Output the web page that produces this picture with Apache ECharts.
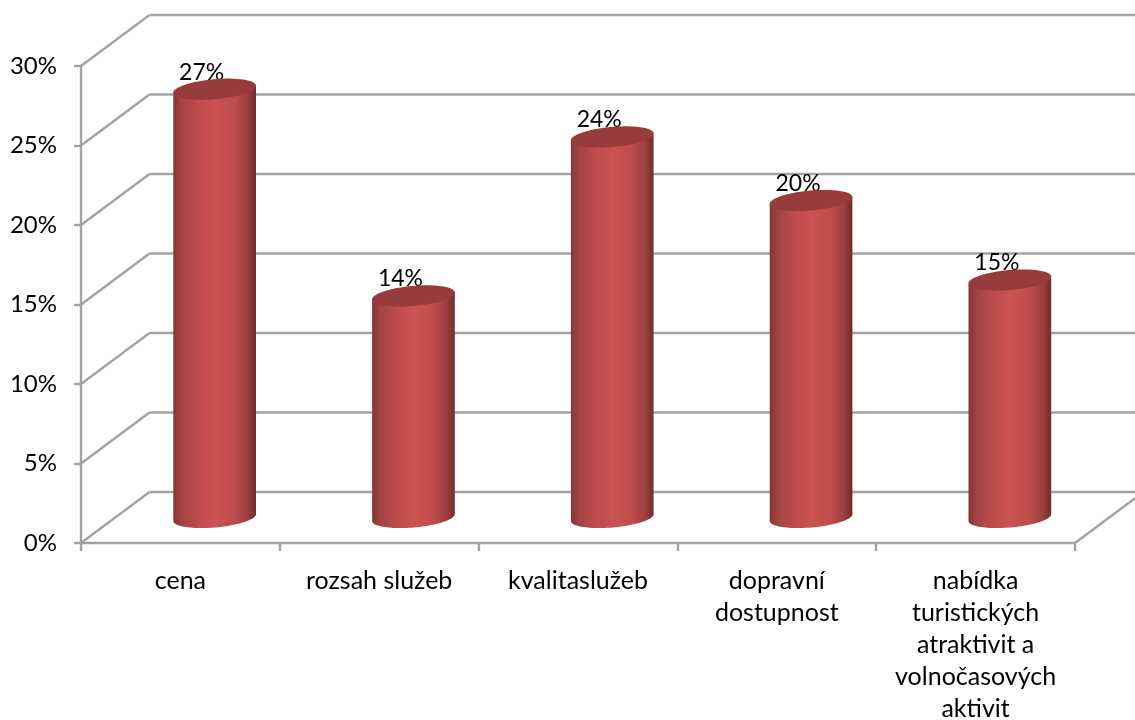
<!DOCTYPE html>
<html>
<head>
<meta charset="utf-8">
<style>html,body{margin:0;padding:0;background:#fff}#c{width:1135px;height:720px}</style>
<script src="https://cdn.jsdelivr.net/npm/echarts@6/dist/echarts.min.js"></script>
</head>
<body>
<div id="c"></div>
<script>
const categories = ['cena', 'rozsah služeb', 'kvalitaslužeb', 'dopravní\ndostupnost', 'nabídka\nturistických\natraktivit a\nvolnočasových\naktivit'];
const values = [27, 14, 24, 20, 15];
const yTicks = [0, 5, 10, 15, 20, 25, 30];

const depthX = 68.5, depthY = -51;
const rx = 41.5, ry = 10, tilt = 5 * Math.PI / 180;
const lineColor = '#a3a3a3';
const font = 'Lato, Carlito, sans-serif';

function ellipsePoint(cx, cy, t) {
  const a = rx * Math.cos(t), b = ry * Math.sin(t);
  return [cx + a * Math.cos(tilt) + b * Math.sin(tilt), cy - a * Math.sin(tilt) + b * Math.cos(tilt)];
}
function ellipsePts(cx, cy, from, to, n) {
  const pts = [];
  for (let i = 0; i <= n; i++) pts.push(ellipsePoint(cx, cy, from + (to - from) * i / n));
  return pts;
}

function renderWalls(params, api) {
  const cs = params.coordSys;
  const children = [];
  const line = (x1, y1, x2, y2) => children.push({
    type: 'line', shape: { x1, y1, x2, y2 },
    style: { stroke: lineColor, lineWidth: 2.4, fill: null }
  });
  yTicks.forEach(v => {
    const y = api.coord([0, v])[1];
    line(cs.x, y, cs.x + depthX, y + depthY);
    line(cs.x + depthX, y + depthY, 1135, y + depthY);
  });
  const y0 = api.coord([0, 0])[1];
  line(cs.x + cs.width, y0, cs.x + cs.width + depthX, y0 + depthY);
  return { type: 'group', children };
}

function renderCyl(params, api) {
  const p = api.coord([api.value(0), api.value(1)]);
  const b = api.coord([api.value(0), 0]);
  const cx = p[0] + depthX / 2, top = p[1] + depthY / 2 + 1, bot = b[1] + depthY / 2;
  const grad = {
    type: 'linear', x: 0, y: 0, x2: 1, y2: 0,
    colorStops: [
      { offset: 0, color: '#863535' }, { offset: 0.1, color: '#a34343' },
      { offset: 0.28, color: '#bb4b4a' }, { offset: 0.5, color: '#cb5351' },
      { offset: 0.75, color: '#bd4c4a' }, { offset: 0.9, color: '#9a3f3e' },
      { offset: 1, color: '#6f2c2c' }
    ]
  };
  const body = [ellipsePoint(cx, top, Math.PI)].concat(ellipsePts(cx, bot, Math.PI, 0, 48)).concat([ellipsePoint(cx, top, 0)]);
  return {
    type: 'group',
    children: [
      { type: 'text', style: { text: api.value(1) + '%', x: cx - 13, y: top - 17, align: 'center', verticalAlign: 'middle', font: '23px ' + font, fill: '#000' } },
      { type: 'polygon', shape: { points: body }, style: { fill: grad } },
      { type: 'polygon', shape: { points: ellipsePts(cx, top, 0, 2 * Math.PI, 64) }, style: { fill: '#973b3b' } }
    ]
  };
}

const chart = echarts.init(document.getElementById('c'), null, { renderer: 'canvas' });
chart.setOption({
  animation: false,
  backgroundColor: '#fff',
  grid: { left: 81, right: 60, top: 66, bottom: 177, outerBoundsMode: 'none' },
  xAxis: {
    type: 'category', data: categories,
    axisLine: { lineStyle: { color: lineColor, width: 2.4 } },
    axisTick: { show: true, alignWithLabel: false, length: 8, lineStyle: { color: lineColor, width: 2.4 } },
    axisLabel: { color: '#000', fontFamily: font, fontSize: 25, lineHeight: 32, margin: 22, interval: 0, hideOverlap: false }
  },
  yAxis: {
    type: 'value', min: 0, max: 30, interval: 5,
    axisLine: { show: true, lineStyle: { color: lineColor, width: 2.4 } },
    axisTick: { show: true, length: 7, lineStyle: { color: lineColor, width: 2.4 } },
    axisLabel: { color: '#000', fontFamily: font, fontSize: 24, margin: 24, padding: [3, 0, 0, 0], formatter: '{value}%' },
    splitLine: { show: false }
  },
  series: [
    { type: 'custom', renderItem: renderWalls, data: [[0, 0]], z: 1, silent: true, clip: false },
    { type: 'custom', renderItem: renderCyl, data: values.map((v, i) => [i, v]), z: 2, silent: true, clip: false, encode: { x: 0, y: 1 } }
  ]
});
</script>
</body>
</html>
